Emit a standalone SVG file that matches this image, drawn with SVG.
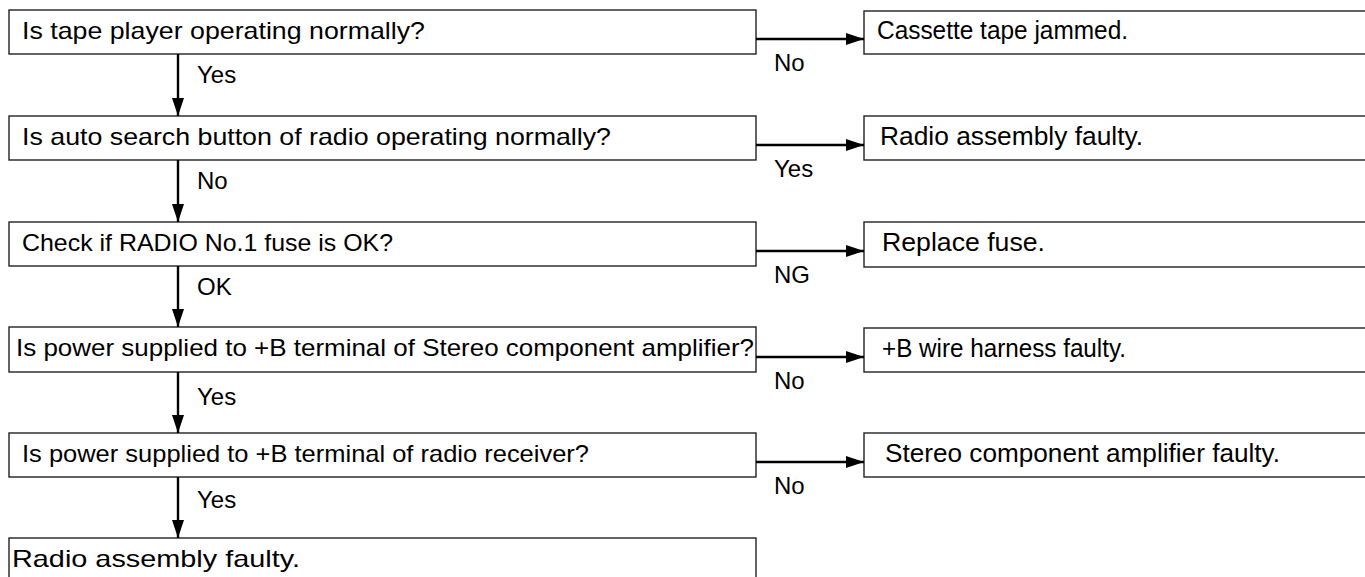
<svg xmlns="http://www.w3.org/2000/svg" width="1365" height="577" viewBox="0 0 1365 577">
<style>
.box{fill:#fff;stroke:#222;stroke-width:1.4}
.t{font-family:"Liberation Sans",Arial,sans-serif;font-size:24px;fill:#000}
.rt{font-family:"Liberation Sans",Arial,sans-serif;font-size:25px;fill:#000}
.lbl{font-family:"Liberation Sans",Arial,sans-serif;font-size:24px;fill:#000}
.c{stroke:#000;stroke-width:2.4;fill:none}
</style>
<defs>
<marker id="ah" markerUnits="userSpaceOnUse" markerWidth="20" markerHeight="14" refX="18" refY="6" orient="auto">
<path d="M0,0 L18,6 L0,12 Z" fill="#000"/>
</marker>
</defs>
<rect width="1365" height="577" fill="#fff"/>
<g id="n1"><rect class="box" x="9" y="10" width="747" height="44"/><text class="t" x="22" y="39" textLength="403" lengthAdjust="spacingAndGlyphs">Is tape player operating normally?</text></g>
<g id="n2"><rect class="box" x="9" y="116" width="747" height="44"/><text class="t" x="22" y="145" textLength="589" lengthAdjust="spacingAndGlyphs">Is auto search button of radio operating normally?</text></g>
<g id="n3"><rect class="box" x="9" y="222" width="747" height="44"/><text class="t" x="22" y="251" textLength="371" lengthAdjust="spacingAndGlyphs">Check if RADIO No.1 fuse is OK?</text></g>
<g id="n4"><rect class="box" x="9" y="327" width="747" height="45"/><text class="t" x="16" y="356" textLength="738" lengthAdjust="spacingAndGlyphs">Is power supplied to +B terminal of Stereo component amplifier?</text></g>
<g id="n5"><rect class="box" x="9" y="433" width="747" height="44"/><text class="t" x="22" y="462" textLength="567" lengthAdjust="spacingAndGlyphs">Is power supplied to +B terminal of radio receiver?</text></g>
<g id="n6"><rect class="box" x="9" y="538" width="747" height="50"/><text class="t" x="12" y="567" textLength="288" lengthAdjust="spacingAndGlyphs">Radio assembly faulty.</text></g>
<g id="r1"><rect class="box" x="864" y="11" width="510" height="43"/><text class="rt" x="877" y="39" textLength="251" lengthAdjust="spacingAndGlyphs">Cassette tape jammed.</text></g>
<g id="r2"><rect class="box" x="864" y="116" width="510" height="44"/><text class="rt" x="880" y="145" textLength="263" lengthAdjust="spacingAndGlyphs">Radio assembly faulty.</text></g>
<g id="r3"><rect class="box" x="864" y="222" width="510" height="45"/><text class="rt" x="882" y="251" textLength="163" lengthAdjust="spacingAndGlyphs">Replace fuse.</text></g>
<g id="r4"><rect class="box" x="864" y="328" width="510" height="44"/><text class="rt" x="882" y="357" textLength="244" lengthAdjust="spacingAndGlyphs">+B wire harness faulty.</text></g>
<g id="r5"><rect class="box" x="864" y="433" width="510" height="44"/><text class="rt" x="885" y="462" textLength="395" lengthAdjust="spacingAndGlyphs">Stereo component amplifier faulty.</text></g>
<g id="connectors">
<line class="c" x1="178" y1="54" x2="178" y2="116" marker-end="url(#ah)"/>
<line class="c" x1="178" y1="160" x2="178" y2="222" marker-end="url(#ah)"/>
<line class="c" x1="178" y1="266" x2="178" y2="327" marker-end="url(#ah)"/>
<line class="c" x1="178" y1="372" x2="178" y2="433" marker-end="url(#ah)"/>
<line class="c" x1="178" y1="477" x2="178" y2="538" marker-end="url(#ah)"/>
<line class="c" x1="756" y1="39" x2="864" y2="39" marker-end="url(#ah)"/>
<line class="c" x1="756" y1="145" x2="864" y2="145" marker-end="url(#ah)"/>
<line class="c" x1="756" y1="251" x2="864" y2="251" marker-end="url(#ah)"/>
<line class="c" x1="756" y1="357" x2="864" y2="357" marker-end="url(#ah)"/>
<line class="c" x1="756" y1="462" x2="864" y2="462" marker-end="url(#ah)"/>
<text class="lbl" x="197" y="83">Yes</text>
<text class="lbl" x="197" y="189">No</text>
<text class="lbl" x="197" y="295">OK</text>
<text class="lbl" x="197" y="405">Yes</text>
<text class="lbl" x="197" y="508">Yes</text>
<text class="lbl" x="774" y="71">No</text>
<text class="lbl" x="774" y="177">Yes</text>
<text class="lbl" x="774" y="283">NG</text>
<text class="lbl" x="774" y="389">No</text>
<text class="lbl" x="774" y="494">No</text>
</g>
</svg>
